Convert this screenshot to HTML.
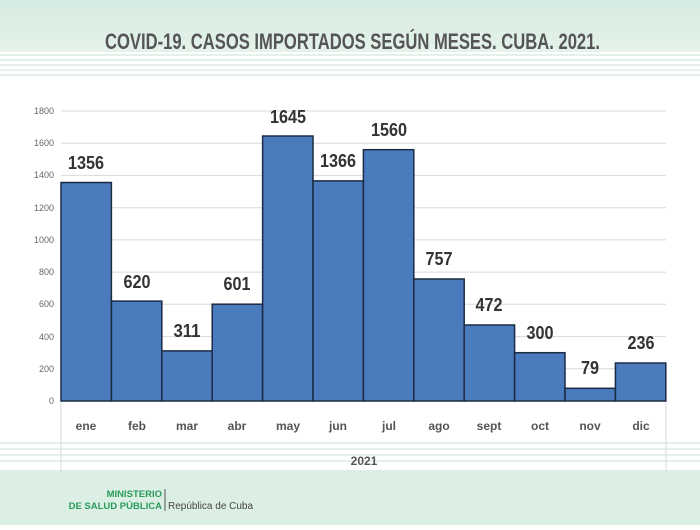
<!DOCTYPE html>
<html><head><meta charset="utf-8"><style>
body{margin:0;width:700px;height:525px;overflow:hidden;background:#fff;font-family:"Liberation Sans",sans-serif}
</style></head><body>
<svg width="700" height="525" xmlns="http://www.w3.org/2000/svg">
<defs>
<linearGradient id="tg" x1="0" y1="0" x2="0" y2="1"><stop offset="0" stop-color="#d5ebe1"/><stop offset="1" stop-color="#e4f2ea"/></linearGradient>
</defs>
<rect x="0" y="0" width="700" height="52" fill="url(#tg)"/>
<g stroke="#e3f1ea" stroke-width="2">
<line x1="0" y1="55" x2="700" y2="55"/><line x1="0" y1="60" x2="700" y2="60"/><line x1="0" y1="65" x2="700" y2="65"/><line x1="0" y1="70" x2="700" y2="70"/><line x1="0" y1="75" x2="700" y2="75"/>
<line x1="0" y1="443" x2="700" y2="443"/><line x1="0" y1="449" x2="700" y2="449"/><line x1="0" y1="455" x2="700" y2="455"/><line x1="0" y1="461" x2="700" y2="461"/>
</g>
<rect x="0" y="470" width="700" height="55" fill="#dcefe5"/>
<text x="105" y="49" textLength="495" lengthAdjust="spacingAndGlyphs" font-size="22" font-weight="bold" fill="#555">COVID-19. CASOS IMPORTADOS SEGÚN MESES. CUBA. 2021.</text>
<g stroke="#d9d9d9" stroke-width="1">
<line x1="61" x2="666" y1="111" y2="111"/><line x1="61" x2="666" y1="143.2" y2="143.2"/><line x1="61" x2="666" y1="175.4" y2="175.4"/><line x1="61" x2="666" y1="207.7" y2="207.7"/><line x1="61" x2="666" y1="239.9" y2="239.9"/><line x1="61" x2="666" y1="272.1" y2="272.1"/><line x1="61" x2="666" y1="304.3" y2="304.3"/><line x1="61" x2="666" y1="336.6" y2="336.6"/><line x1="61" x2="666" y1="368.8" y2="368.8"/>
<line x1="61" x2="61" y1="401" y2="472"/><line x1="666" x2="666" y1="401" y2="472"/>
</g>
<g font-size="9" fill="#666" text-anchor="end">
<text x="54" y="114">1800</text><text x="54" y="146">1600</text><text x="54" y="178">1400</text><text x="54" y="211">1200</text><text x="54" y="243">1000</text><text x="54" y="275">800</text><text x="54" y="307">600</text><text x="54" y="340">400</text><text x="54" y="372">200</text><text x="54" y="404">0</text>
</g>
<g fill="#4a7bbd" stroke="#1c2b45" stroke-width="1.5">
<rect x="61" y="182.5" width="50.4" height="218.5"/>
<rect x="111.4" y="301.1" width="50.4" height="99.9"/>
<rect x="161.8" y="350.9" width="50.4" height="50.1"/>
<rect x="212.2" y="304.2" width="50.4" height="96.8"/>
<rect x="262.6" y="136" width="50.4" height="265"/>
<rect x="313" y="180.9" width="50.4" height="220.1"/>
<rect x="363.4" y="149.7" width="50.4" height="251.3"/>
<rect x="413.8" y="279" width="50.4" height="122"/>
<rect x="464.2" y="325" width="50.4" height="76"/>
<rect x="514.6" y="352.7" width="50.4" height="48.3"/>
<rect x="565" y="388.3" width="50.4" height="12.7"/>
<rect x="615.4" y="363" width="50.4" height="38"/>
</g>
<g font-size="18" font-weight="bold" fill="#333" lengthAdjust="spacingAndGlyphs">
<text x="68" y="169" textLength="36" lengthAdjust="spacingAndGlyphs">1356</text>
<text x="123.5" y="288" textLength="27" lengthAdjust="spacingAndGlyphs">620</text>
<text x="173.5" y="337" textLength="27" lengthAdjust="spacingAndGlyphs">311</text>
<text x="223.5" y="290" textLength="27" lengthAdjust="spacingAndGlyphs">601</text>
<text x="270" y="123" textLength="36" lengthAdjust="spacingAndGlyphs">1645</text>
<text x="320" y="167" textLength="36" lengthAdjust="spacingAndGlyphs">1366</text>
<text x="371" y="136" textLength="36" lengthAdjust="spacingAndGlyphs">1560</text>
<text x="425.5" y="265" textLength="27" lengthAdjust="spacingAndGlyphs">757</text>
<text x="475.5" y="311" textLength="27" lengthAdjust="spacingAndGlyphs">472</text>
<text x="526.5" y="339" textLength="27" lengthAdjust="spacingAndGlyphs">300</text>
<text x="581" y="374" textLength="18" lengthAdjust="spacingAndGlyphs">79</text>
<text x="627.5" y="349" textLength="27" lengthAdjust="spacingAndGlyphs">236</text>
</g>
<g font-size="12" font-weight="bold" fill="#555" text-anchor="middle" transform="translate(0,0)">
<text x="86" y="430">ene</text><text x="137" y="430">feb</text><text x="187" y="430">mar</text><text x="237" y="430">abr</text><text x="288" y="430">may</text><text x="338" y="430">jun</text><text x="389" y="430">jul</text><text x="439" y="430">ago</text><text x="489" y="430">sept</text><text x="540" y="430">oct</text><text x="590" y="430">nov</text><text x="641" y="430">dic</text>
<text x="364" y="465">2021</text>
</g>
<g font-weight="bold" font-size="9.5" fill="#2a9a5a" text-anchor="end">
<text x="162" y="497">MINISTERIO</text><text x="162" y="509">DE SALUD PÚBLICA</text>
</g>
<line x1="165" y1="489" x2="165" y2="511" stroke="#555" stroke-width="1"/>
<text x="168" y="509" font-size="10" fill="#444">República de Cuba</text>
</svg>
</body></html>
